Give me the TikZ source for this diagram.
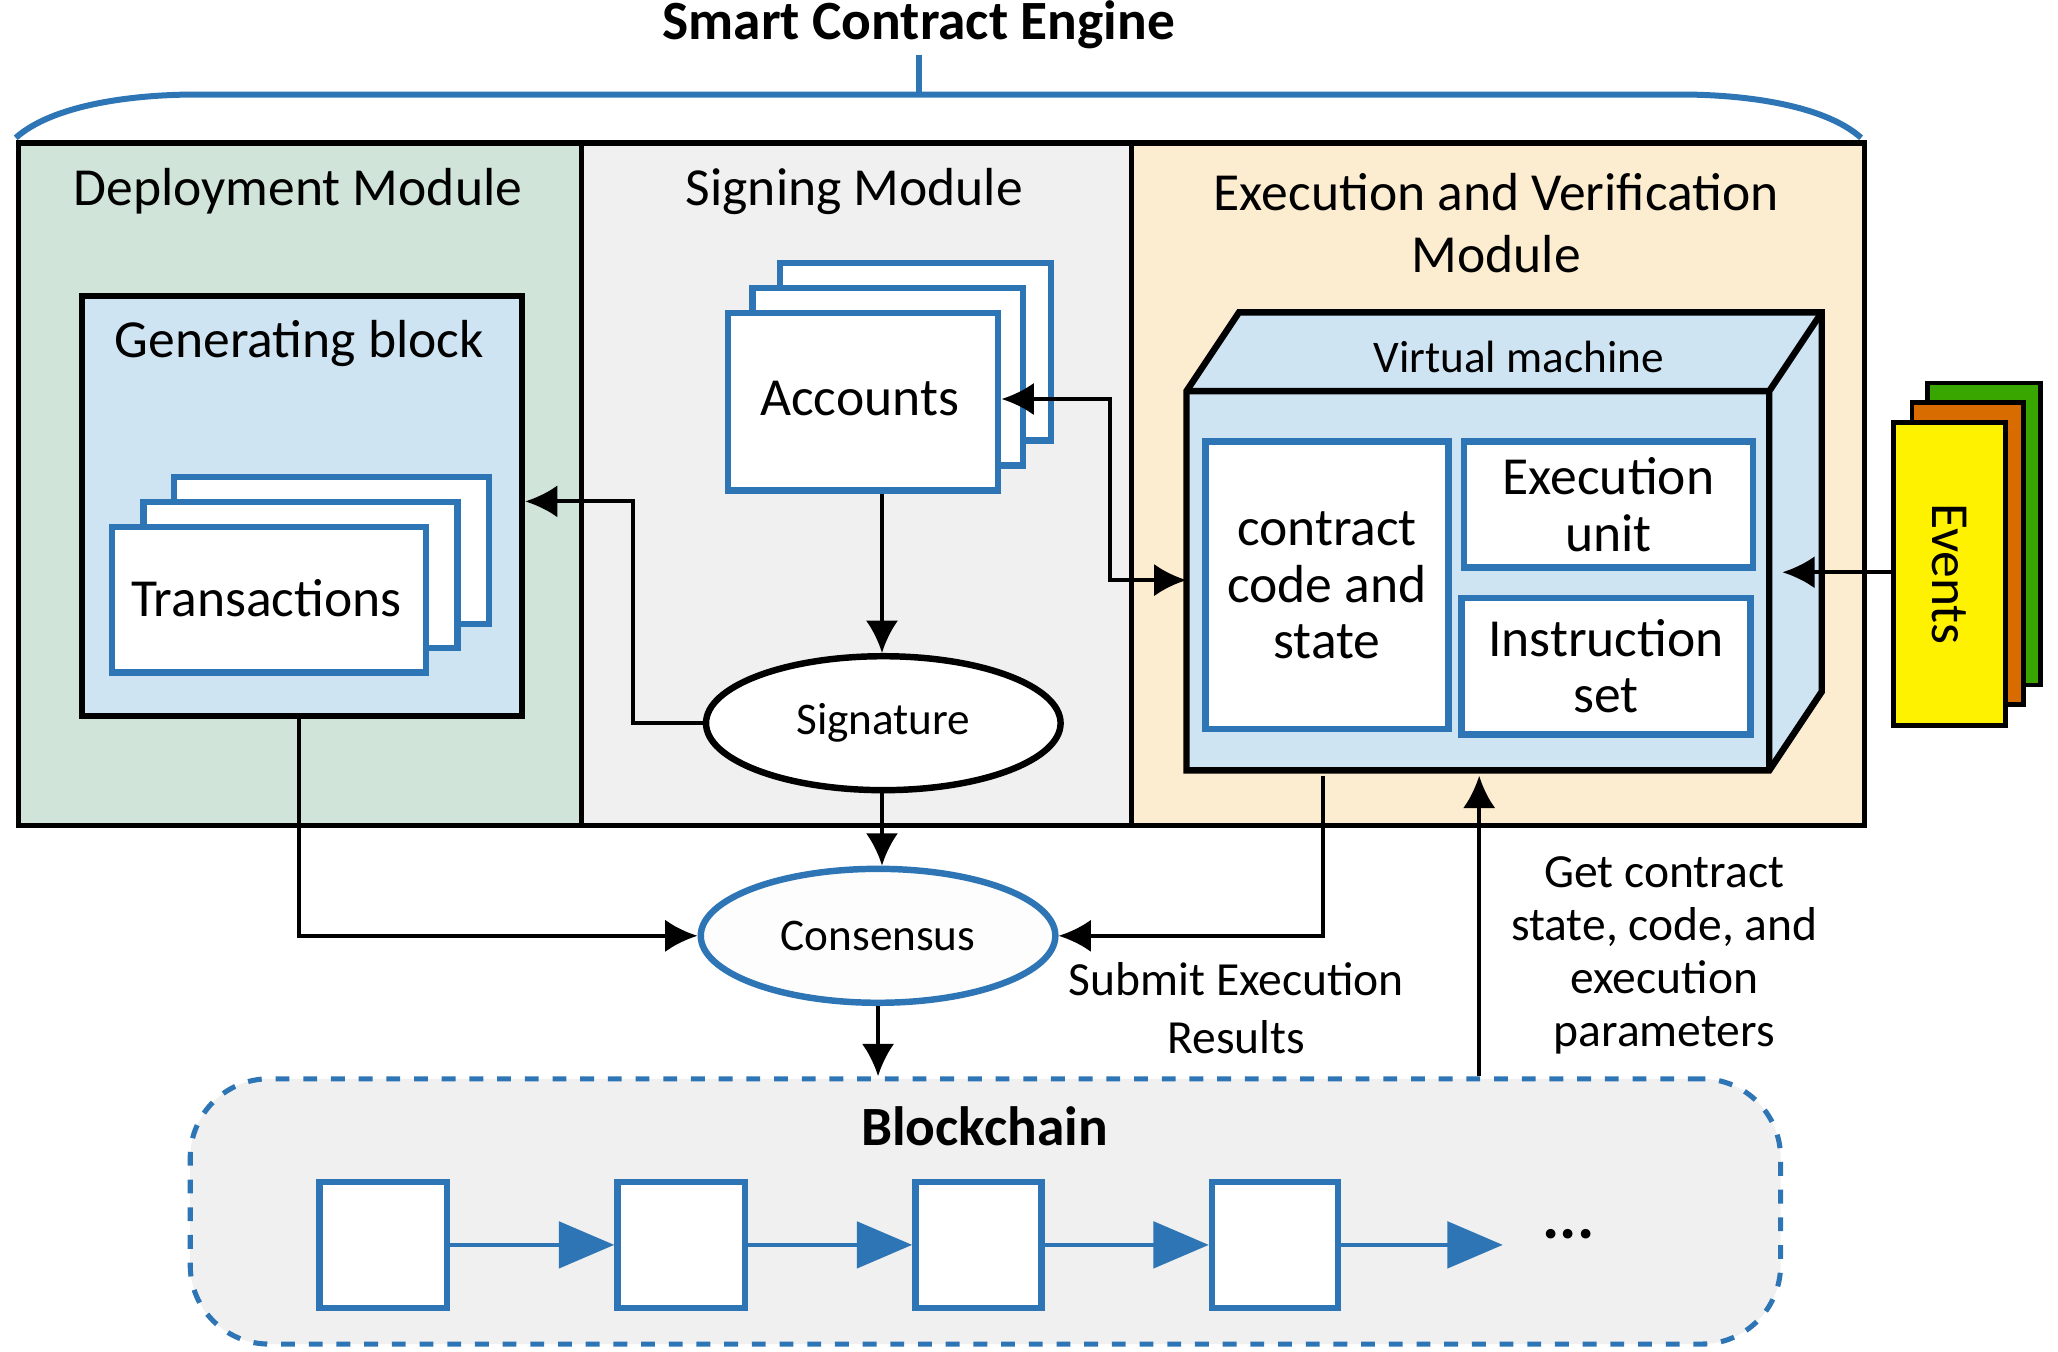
\documentclass[tikz,border=0pt]{standalone}
\usepackage{fontspec}
\setmainfont{Carlito}
\usepackage{xcolor}
\usetikzlibrary{shapes.geometric, arrows.meta, positioning, fit, calc}
\definecolor{bblue}{RGB}{46,117,182}
\definecolor{dgreen}{RGB}{208,228,218}
\definecolor{sgrey}{RGB}{240,240,240}
\definecolor{eorange}{RGB}{252,236,208}
\definecolor{lblue}{RGB}{207,228,242}
\tikzset{
  page/.style={draw,rectangle,black,line width=1.1pt,anchor=north west,inner sep=0pt},
  card/.style={draw=bblue,rectangle,fill=white,line width=1.4pt,anchor=north west,inner sep=0pt},
  link/.style={-{Latex[length=7pt,width=7pt]},line width=0.9pt,black},
  chain/.style={-{Triangle[length=12pt,width=10pt]},line width=1pt,bblue},
}
\begin{document}
\begin{tikzpicture}[x=0.01cm,y=-0.01cm,font=\fontsize{11.6}{13.5}\selectfont]%
\useasboundingbox (0,0) rectangle (1568,1030);%
\node[font=\fontsize{12}{14}\selectfont\bfseries] (title) at (700,19) {Smart Contract Engine};%
\draw[bblue,line width=1.3pt] (12,105) .. controls (40,80) and (100,72) .. (150,72) -- (1280,72) .. controls (1330,72) and (1390,80) .. (1418,105);%
\draw[bblue,line width=1.3pt] (700,72) -- (700,42);%
\node[page,fill=dgreen,minimum width=4.29cm,minimum height=5.2cm] (dep) at (12,107) {};%
\node[page,fill=sgrey,minimum width=4.19cm,minimum height=5.2cm] (sign) at (441,107) {};%
\node[page,fill=eorange,minimum width=5.58cm,minimum height=5.2cm] (exec) at (860,107) {};%
\node (dep_t) at (227,146) {Deployment Module};%
\node (sign_t) at (651,146) {Signing Module};%
\node[align=center] (exec_t) at (1140,170) {Execution and Verification\\Module};%
% generating block
\node[page,fill=lblue,minimum width=3.35cm,minimum height=3.2cm,line width=1.4pt] (gen) at (60,223) {};%
\node (gen_t) at (228,262) {Generating block};%
\node[card,minimum width=2.4cm,minimum height=1.12cm] (tx_2) at (130,361) {};%
\node[card,minimum width=2.39cm,minimum height=1.11cm] (tx_1) at (107,380) {};%
\node[card,minimum width=2.39cm,minimum height=1.11cm] (tx_0) at (83,399) {};%
\node (tx_t) at (203,456) {Transactions};%
% accounts
\node[card,minimum width=2.06cm,minimum height=1.35cm] (acc_2) at (592,198) {};%
\node[card,minimum width=2.06cm,minimum height=1.35cm] (acc_1) at (571,217) {};%
\node[card,minimum width=2.06cm,minimum height=1.35cm] (acc_0) at (552,236) {};%
\node (acc_t) at (655,304) {Accounts};%
\node[draw,ellipse,fill=white,line width=1.4pt,minimum width=2.7cm,minimum height=1.02cm,font=\fontsize{9.8}{12}\selectfont] (sig) at (673,551) {Signature};%
\node[draw=bblue,ellipse,fill=sgrey!90!black!5,line width=1.4pt,minimum width=2.7cm,minimum height=1.02cm,font=\fontsize{9.8}{12}\selectfont] (cons) at (669,713) {Consensus};%
% virtual machine
\draw[line width=1.4pt,fill=lblue] (904,298) -- (944,238) -- (1388,238) -- (1388,527) -- (1348,587) -- (904,587) -- cycle;%
\draw[line width=1.4pt] (904,298) -- (1348,298) -- (1388,238) (1348,298) -- (1348,587);%
\node[page,draw=none,minimum width=4.44cm,minimum height=2.89cm] (vm) at (904,298) {};%
\node[font=\fontsize{9.8}{12}\selectfont] (vm_t) at (1157,272) {Virtual machine};%
\node[card,minimum width=1.85cm,minimum height=2.19cm] (code) at (916,334) {};%
\node[align=center,font=\fontsize{11.6}{12.3}\selectfont] at (code.center) {contract\\code and\\state};%
\node[card,minimum width=2.2cm,minimum height=0.96cm] (unit) at (1113,334) {};%
\node[align=center,font=\fontsize{11.6}{12.3}\selectfont] at (unit.center) {Execution\\unit};%
\node[card,minimum width=2.2cm,minimum height=1.04cm] (inst) at (1111,453) {};%
\node[align=center,font=\fontsize{11.6}{12.3}\selectfont] at (inst.center) {Instruction\\set};%
% events
\node[page,fill=green!50!black!70!lime,minimum width=0.86cm,minimum height=2.3cm,line width=1pt] (ev_2) at (1467,290) {};%
\node[page,fill=orange!85!black,minimum width=0.85cm,minimum height=2.3cm,line width=1pt] (ev_1) at (1455,305) {};%
\node[page,fill=yellow,minimum width=0.85cm,minimum height=2.31cm,line width=1pt] (ev_0) at (1441,320) {};%
\node[rotate=-90] at (ev_0.center) {Events};%
% blockchain
\node[draw=bblue,dashed,rounded corners=0.6cm,fill=sgrey,line width=1.1pt,anchor=north west,minimum width=12.11cm,minimum height=2.02cm] (bc) at (143,820) {};%
\node[font=\fontsize{12}{14}\selectfont\bfseries] (bc_t) at (750,858) {Blockchain};%
\node[card,minimum width=0.97cm,minimum height=0.96cm] (b_0) at (241,898) {};%
\node[card,minimum width=0.97cm,minimum height=0.96cm] (b_1) at (468,898) {};%
\node[card,minimum width=0.96cm,minimum height=0.96cm] (b_2) at (695,898) {};%
\node[card,minimum width=0.96cm,minimum height=0.96cm] (b_3) at (921,898) {};%
\coordinate (b_end) at (1145,946);%
\node[font=\fontsize{14}{14}\selectfont\bfseries] (dots) at (1195,940) {...};%
\draw[chain] (b_0) -- (b_1);%
\draw[chain] (b_1) -- (b_2);%
\draw[chain] (b_2) -- (b_3);%
\draw[chain] (b_3.east) -- (b_end |- b_3.east);%
% connectors
\draw[link] (sig.west) -- (482,551) |- (gen.east |- 0,382);%
\draw[link] (acc_0.south -| 672,0) -- (sig.north -| 672,0);%
\draw[{Latex[length=7pt,width=7pt]}-{Latex[length=7pt,width=7pt]},line width=0.9pt] (acc_0.east |- 0,304) -- (846,304) |- (vm.west |- 0,442);%
\draw[link] (sig.south -| 672,0) -- (cons.north -| 672,0);%
\draw[link] (gen.south -| 228,0) |- (cons.west);%
\draw[link] (vm.south -| 1008,0) |- (cons.east);%
\draw[link] (cons.south) -- (bc.north -| cons.south);%
\draw[link] (bc.north -| 1127,0) -- (vm.south -| 1127,0);%
\draw[link] (ev_0.west |- 0,436) -- (1358,436);%
\node[align=center,font=\fontsize{10.3}{12.5}\selectfont] (sub) at (942,768) {Submit Execution\\Results};%
\node[align=center,font=\fontsize{10.3}{11.5}\selectfont] (get) at (1268,728) {Get contract\\state, code, and\\execution\\parameters};%
\end{tikzpicture}
\end{document}
